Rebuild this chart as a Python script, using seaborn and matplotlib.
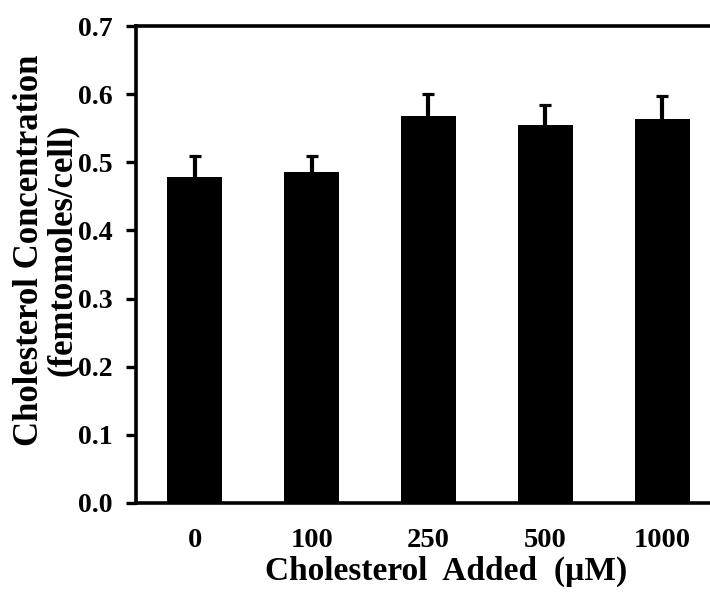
import matplotlib
matplotlib.use("Agg")
import matplotlib.pyplot as plt
import seaborn as sns
import pandas as pd

categories = ["0", "100", "250", "500", "1000"]
means = [0.478, 0.486, 0.568, 0.555, 0.563]
errors = [0.031, 0.023, 0.032, 0.029, 0.035]
yticks = [0.0, 0.1, 0.2, 0.3, 0.4, 0.5, 0.6, 0.7]

sns.set_theme(style="ticks")
plt.rcParams["font.family"] = ["Liberation Serif", "DejaVu Serif"]
plt.rcParams["font.weight"] = "bold"
plt.rcParams["axes.labelweight"] = "bold"

df = pd.DataFrame({"dose": categories, "conc": means})

fig = plt.figure(figsize=(7.1, 6.02), dpi=100)
ax = fig.add_axes([136 / 710, (602 - 503) / 602, (710 - 136) / 710, (503 - 26) / 602])

sns.barplot(data=df, x="dose", y="conc", order=categories, color="black",
            saturation=1, width=0.47, ax=ax, zorder=2, edgecolor="black", linewidth=0)
eb = ax.errorbar(range(len(categories)), means, yerr=[[0] * len(errors), errors],
                 fmt="none", ecolor="black", elinewidth=3, capsize=4.3, capthick=2.3, zorder=1)
caplines = eb[1]
if len(caplines) == 2:
    caplines[0].set_visible(False)

ax.set_xlim(-0.504, 4.41)
ax.set_ylim(0, 0.7)
ax.set_yticks(yticks)
ax.set_yticklabels([f"{v:.1f}" for v in yticks])
for s in ["top", "left", "bottom"]:
    ax.spines[s].set_linewidth(2.6)
    ax.spines[s].set_color("black")
ax.spines["right"].set_visible(False)
ax.tick_params(axis="y", direction="out", length=7, width=2.4, labelsize=20, pad=10, colors="black")
ax.tick_params(axis="x", length=0, labelsize=20.5, pad=18, colors="black")

ax.set_xlabel("Cholesterol  Added  (\u00b5M)", fontsize=24, fontweight="bold", color="black")
ax.xaxis.set_label_coords(0.541, -0.11)
ax.set_ylabel("Cholesterol Concentration\n(femtomoles/cell)", fontsize=25, fontweight="bold",
              linespacing=1.0, color="black")
ax.yaxis.set_label_coords(-0.1, 0.53)

fig.savefig("out.png", dpi=100, facecolor="white")
